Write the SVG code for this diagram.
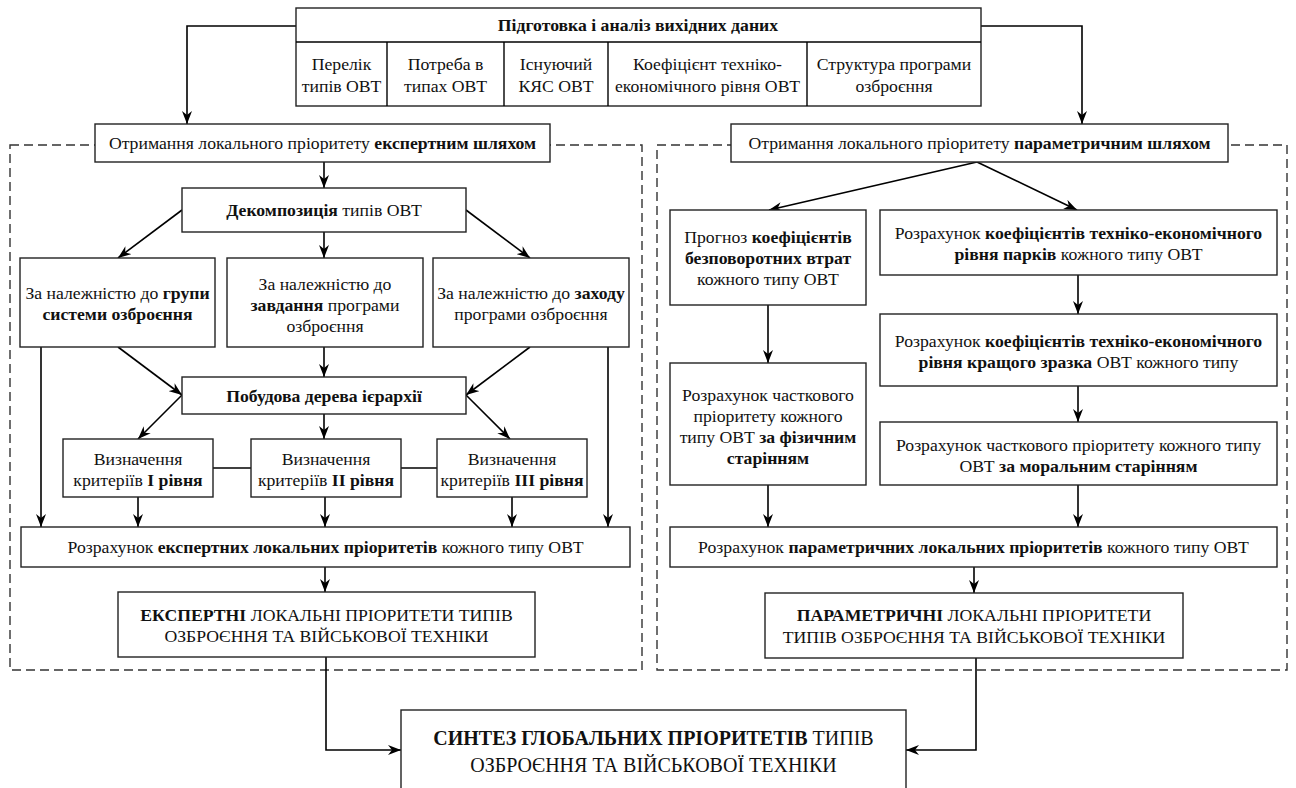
<svg xmlns="http://www.w3.org/2000/svg" width="1296" height="788" viewBox="0 0 1296 788">
<style>
text{font-family:'Liberation Serif','Times New Roman',serif;font-size:17.7px;fill:#111;text-anchor:middle}
.b{font-weight:bold}
.box{fill:#fff;stroke:#222;stroke-width:1.4}
.dash{fill:none;stroke:#333;stroke-width:1.4;stroke-dasharray:9,5}
.c{fill:none;stroke:#000;stroke-width:1.6}
.ca{fill:none;stroke:#000;stroke-width:1.6;marker-end:url(#ah)}
.big{font-size:20px}
</style>
<defs>
<marker id="ah" markerUnits="userSpaceOnUse" markerWidth="14" markerHeight="10" refX="13" refY="5" orient="auto">
<path d="M0,0 L13,5 L0,10 L4,5 z" fill="#000"/>
</marker>
</defs>
<rect width="1296" height="788" fill="#fff"/>

<g id="regions">
<rect class="dash" x="10" y="145" width="632" height="525"/>
<rect class="dash" x="657" y="145" width="630" height="525"/>
</g>

<g id="connectors">
<polyline class="ca" points="296,26 187,26 187,124"/>
<polyline class="ca" points="981,26 1082,26 1082,124"/>
<line class="ca" x1="324" y1="162" x2="324" y2="188"/>
<line class="ca" x1="182" y1="210" x2="118" y2="258"/>
<line class="ca" x1="324" y1="232" x2="324" y2="258"/>
<line class="ca" x1="466" y1="210" x2="530" y2="258"/>
<line class="ca" x1="118" y1="347" x2="182" y2="395"/>
<line class="ca" x1="324" y1="347" x2="324" y2="377"/>
<line class="ca" x1="530" y1="347" x2="466" y2="395"/>
<line class="ca" x1="182" y1="395" x2="138" y2="439"/>
<line class="ca" x1="324" y1="414" x2="324" y2="439"/>
<line class="ca" x1="466" y1="395" x2="510" y2="439"/>
<line class="c" x1="213" y1="468" x2="251" y2="468"/>
<line class="c" x1="401" y1="468" x2="437" y2="468"/>
<line class="ca" x1="41" y1="347" x2="41" y2="527"/>
<line class="ca" x1="608" y1="347" x2="608" y2="527"/>
<line class="ca" x1="138" y1="497" x2="138" y2="527"/>
<line class="ca" x1="325" y1="497" x2="325" y2="527"/>
<line class="ca" x1="512" y1="497" x2="512" y2="527"/>
<line class="ca" x1="325" y1="567" x2="325" y2="592"/>
<polyline class="ca" points="326,657 326,750 401,750"/>
<line class="ca" x1="977" y1="162" x2="769" y2="210"/>
<line class="ca" x1="977" y1="162" x2="1077" y2="210"/>
<line class="ca" x1="768" y1="305" x2="768" y2="363"/>
<line class="ca" x1="1078" y1="275" x2="1078" y2="314"/>
<line class="ca" x1="1078" y1="386" x2="1078" y2="422"/>
<line class="ca" x1="768" y1="485" x2="768" y2="527"/>
<line class="ca" x1="1078" y1="485" x2="1078" y2="527"/>
<line class="ca" x1="974" y1="567" x2="974" y2="593"/>
<polyline class="ca" points="976,658 976,750 906,750"/>
</g>

<g id="n-input">
<rect class="box" x="296" y="8" width="685" height="98"/>
<line class="c" x1="296" y1="42" x2="981" y2="42" style="stroke-width:1.4"/>
<line class="c" x1="387" y1="42" x2="387" y2="106" style="stroke-width:1.4"/>
<line class="c" x1="504" y1="42" x2="504" y2="106" style="stroke-width:1.4"/>
<line class="c" x1="608" y1="42" x2="608" y2="106" style="stroke-width:1.4"/>
<line class="c" x1="807" y1="42" x2="807" y2="106" style="stroke-width:1.4"/>
<text x="638" y="31" class="b">Підготовка і аналіз вихідних даних</text>
<text x="341.5" y="70">Перелік</text><text x="341.5" y="92">типів ОВТ</text>
<text x="445.5" y="70">Потреба в</text><text x="445.5" y="92">типах ОВТ</text>
<text x="556" y="70">Існуючий</text><text x="556" y="92">КЯС ОВТ</text>
<text x="707.5" y="70">Коефіцієнт техніко-</text><text x="707.5" y="92">економічного рівня ОВТ</text>
<text x="894" y="70">Структура програми</text><text x="894" y="92">озброєння</text>
</g>

<g id="n-expert-title">
<rect class="box" x="95" y="124" width="455" height="38"/>
<text x="322.5" y="149">Отримання локального пріоритету <tspan class="b">експертним шляхом</tspan></text>
</g>
<g id="n-param-title">
<rect class="box" x="731" y="124" width="497" height="38"/>
<text x="979.5" y="149">Отримання локального пріоритету <tspan class="b">параметричним шляхом</tspan></text>
</g>

<g id="n-decomp">
<rect class="box" x="182" y="188" width="284" height="44"/>
<text x="324" y="216"><tspan class="b">Декомпозиція</tspan> типів ОВТ</text>
</g>
<g id="n-group">
<rect class="box" x="20" y="258" width="195" height="89"/>
<text x="117.5" y="299">За належністю до <tspan class="b">групи</tspan></text>
<text x="117.5" y="320" class="b">системи озброєння</text>
</g>
<g id="n-task">
<rect class="box" x="227" y="258" width="196" height="89"/>
<text x="325" y="290">За належністю до</text>
<text x="325" y="311"><tspan class="b">завдання</tspan> програми</text>
<text x="325" y="332">озброєння</text>
</g>
<g id="n-measure">
<rect class="box" x="433" y="258" width="196" height="89"/>
<text x="531" y="299">За належністю до <tspan class="b">заходу</tspan></text>
<text x="531" y="320">програми озброєння</text>
</g>
<g id="n-tree">
<rect class="box" x="182" y="377" width="284" height="37"/>
<text x="324" y="401.5" class="b">Побудова дерева ієрархії</text>
</g>
<g id="n-crit1">
<rect class="box" x="63" y="439" width="150" height="58"/>
<text x="138" y="465">Визначення</text>
<text x="138" y="486">критеріїв <tspan class="b">I рівня</tspan></text>
</g>
<g id="n-crit2">
<rect class="box" x="251" y="439" width="150" height="58"/>
<text x="326" y="465">Визначення</text>
<text x="326" y="486">критеріїв <tspan class="b">II рівня</tspan></text>
</g>
<g id="n-crit3">
<rect class="box" x="437" y="439" width="150" height="58"/>
<text x="512" y="465">Визначення</text>
<text x="512" y="486">критеріїв <tspan class="b">III рівня</tspan></text>
</g>
<g id="n-expert-calc">
<rect class="box" x="21" y="527" width="609" height="40"/>
<text x="325.5" y="553">Розрахунок <tspan class="b">експертних локальних пріоритетів</tspan> кожного типу ОВТ</text>
</g>
<g id="n-expert-result">
<rect class="box" x="118" y="592" width="417" height="65"/>
<text x="326.5" y="621"><tspan class="b">ЕКСПЕРТНІ</tspan> ЛОКАЛЬНІ ПРІОРИТЕТИ ТИПІВ</text>
<text x="326.5" y="642">ОЗБРОЄННЯ ТА ВІЙСЬКОВОЇ ТЕХНІКИ</text>
</g>

<g id="n-forecast">
<rect class="box" x="670" y="210" width="196" height="95"/>
<text x="768" y="243">Прогноз <tspan class="b">коефіцієнтів</tspan></text>
<text x="768" y="264" class="b">безповоротних втрат</text>
<text x="768" y="285">кожного типу ОВТ</text>
</g>
<g id="n-park">
<rect class="box" x="880" y="210" width="397" height="65"/>
<text x="1078.5" y="239">Розрахунок <tspan class="b">коефіцієнтів техніко-економічного</tspan></text>
<text x="1078.5" y="260"><tspan class="b">рівня парків</tspan> кожного типу ОВТ</text>
</g>
<g id="n-best">
<rect class="box" x="880" y="314" width="397" height="72"/>
<text x="1078.5" y="347">Розрахунок <tspan class="b">коефіцієнтів техніко-економічного</tspan></text>
<text x="1078.5" y="368"><tspan class="b">рівня кращого зразка</tspan> ОВТ кожного типу</text>
</g>
<g id="n-moral">
<rect class="box" x="880" y="422" width="397" height="63"/>
<text x="1078.5" y="451">Розрахунок часткового пріоритету кожного типу</text>
<text x="1078.5" y="472">ОВТ <tspan class="b">за моральним старінням</tspan></text>
</g>
<g id="n-physical">
<rect class="box" x="670" y="363" width="196" height="122"/>
<text x="768" y="401">Розрахунок часткового</text>
<text x="768" y="422">пріоритету кожного</text>
<text x="768" y="443">типу ОВТ <tspan class="b">за фізичним</tspan></text>
<text x="768" y="464" class="b">старінням</text>
</g>
<g id="n-param-calc">
<rect class="box" x="670" y="527" width="607" height="40"/>
<text x="973.5" y="553">Розрахунок <tspan class="b">параметричних локальних пріоритетів</tspan> кожного типу ОВТ</text>
</g>
<g id="n-param-result">
<rect class="box" x="765" y="593" width="418" height="65"/>
<text x="974" y="621"><tspan class="b">ПАРАМЕТРИЧНІ</tspan> ЛОКАЛЬНІ ПРІОРИТЕТИ</text>
<text x="974" y="643">ТИПІВ ОЗБРОЄННЯ ТА ВІЙСЬКОВОЇ ТЕХНІКИ</text>
</g>

<g id="n-synthesis">
<rect class="box" x="401" y="710" width="505" height="90"/>
<text x="653.5" y="745" class="big"><tspan class="b">СИНТЕЗ ГЛОБАЛЬНИХ ПРІОРИТЕТІВ</tspan> ТИПІВ</text>
<text x="653.5" y="772" class="big">ОЗБРОЄННЯ ТА ВІЙСЬКОВОЇ ТЕХНІКИ</text>
</g>
</svg>
